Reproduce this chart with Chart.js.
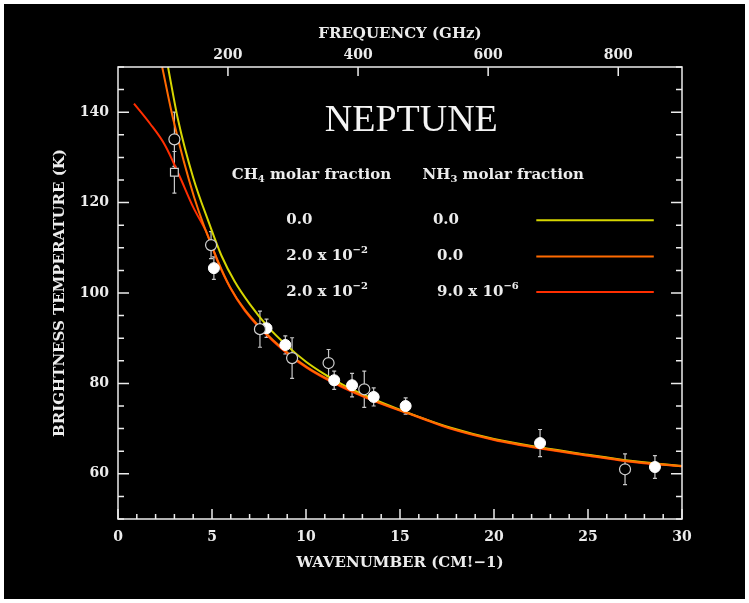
<!DOCTYPE html>
<html>
<head>
<meta charset="utf-8">
<script src="https://cdn.jsdelivr.net/npm/chart.js@4.4.1/dist/chart.umd.min.js"></script>
<style>
  html, body { margin: 0; padding: 0; background: #fff; }
</style>
</head>
<body>
<canvas id="neptune" width="749" height="603"></canvas>
<script>
// measurements: wavenumber (cm-1), brightness temperature (K), 1-sigma error (K)
const OPEN_X = [3.0, 4.95, 7.55, 9.26, 11.2, 13.1, 26.97];
const OPEN_T = [134.0, 110.6, 92.0, 85.6, 84.5, 78.7, 61.0];
const OPEN_ERR = [6.0, 3.0, 4.0, 4.5, 3.0, 4.0, 3.4];

const FILLED_X = [5.1, 7.9, 8.9, 11.5, 12.45, 13.6, 15.3, 22.45, 28.56];
const FILLED_T = [105.5, 92.2, 88.5, 80.7, 79.6, 77.0, 75.0, 66.8, 61.5];
const FILLED_ERR = [2.5, 2.0, 2.0, 2.0, 2.6, 2.0, 1.8, 3.0, 2.5];

const SQUARE_X = [3.0];
const SQUARE_T = [126.7];
const SQUARE_ERR = [4.6];

// model spectra
const YELLOW_X = [2.66, 3.2, 4.0, 4.84, 5.5, 6.2, 7.0, 8.0, 9.0, 10.0, 11.0, 12.0, 13.6, 16.0, 17.7, 20.0, 22.5, 25.0, 27.0, 30.0];
const YELLOW_T = [150, 138.2, 125.5, 115.5, 108.3, 102.6, 97.6, 92.4, 88.3, 84.8, 82.0, 79.6, 76.5, 72.6, 70.2, 67.7, 65.8, 64.2, 63.0, 61.7];

const ORANGE_X = [2.35, 2.95, 4.05, 5.3, 5.96, 6.76, 8.24, 10.05, 11.8, 13.56, 16.06, 17.66, 20.0, 22.45, 25.0, 27.0, 30.0];
const ORANGE_T = [150, 138.2, 121.2, 107.2, 101.3, 96.2, 89.6, 83.6, 79.6, 76.3, 72.5, 70.1, 67.6, 65.7, 64.1, 62.9, 61.7];

const RED_X = [0.85, 1.7, 2.5, 3.3, 4.0, 4.73, 5.3, 5.96, 6.76, 8.24, 10.05, 11.8, 13.56, 16.06, 17.66, 20.0, 22.45, 25.0, 27.0, 30.0];
const RED_T = [141.9, 137.5, 132.7, 125.6, 119.0, 113.2, 107.0, 101.2, 96.0, 89.4, 83.4, 79.4, 76.2, 72.4, 70.0, 67.5, 65.6, 64.0, 62.8, 61.6];

// axes
const X_TICKS = [0, 5, 10, 15, 20, 25, 30];
const Y_TICKS = [60, 80, 100, 120, 140];
const GHZ_TICKS = [200, 400, 600, 800];

const LEGEND_ROWS = [
  { ch4: [{ t: '0.0' }], nh3: [{ t: '0.0' }], color: '#d6d600' },
  { ch4: [{ t: '2.0 x 10' }, { t: '\u22122', s: 'sup' }], nh3: [{ t: '0.0' }], color: '#ff6a00' },
  { ch4: [{ t: '2.0 x 10' }, { t: '\u22122', s: 'sup' }], nh3: [{ t: '9.0 x 10' }, { t: '\u22126', s: 'sup' }], color: '#ff2e00' },
];

const toPoints = (xs, ys) => xs.map((x, i) => ({ x: x, y: ys[i] }));

const FONT = '"DejaVu Serif", serif';
const INK = '#ececec';

function drawRich(ctx, parts, x, y) {
  for (const p of parts) {
    const size = p.s ? 10 : 15;
    ctx.font = 'bold ' + size + 'px ' + FONT;
    const dy = p.s === 'sub' ? 4 : p.s === 'sup' ? -6 : 0;
    ctx.fillText(p.t, x, y + dy);
    x += ctx.measureText(p.t).width;
  }
}

function errorBars(ctx, xs, ys, X, T, E) {
  X.forEach((v, i) => {
    const px = xs.getPixelForValue(v);
    const top = ys.getPixelForValue(T[i] + E[i]);
    const bot = ys.getPixelForValue(T[i] - E[i]);
    ctx.beginPath();
    ctx.moveTo(px, top);
    ctx.lineTo(px, bot);
    ctx.moveTo(px - 2, top);
    ctx.lineTo(px + 2, top);
    ctx.moveTo(px - 2, bot);
    ctx.lineTo(px + 2, bot);
    ctx.stroke();
  });
}

const decor = {
  id: 'decor',
  beforeDraw(chart) {
    const ctx = chart.ctx;
    ctx.save();
    ctx.fillStyle = '#fff';
    ctx.fillRect(0, 0, chart.width, chart.height);
    ctx.fillStyle = '#000';
    ctx.fillRect(4, 4, chart.width - 8, chart.height - 8);
    ctx.restore();
  },
  beforeDatasetsDraw(chart) {
    const ctx = chart.ctx;
    const xs = chart.scales.x, ys = chart.scales.y;
    ctx.save();
    ctx.strokeStyle = '#c8c8c8';
    ctx.lineWidth = 1.2;
    errorBars(ctx, xs, ys, OPEN_X, OPEN_T, OPEN_ERR);
    errorBars(ctx, xs, ys, FILLED_X, FILLED_T, FILLED_ERR);
    errorBars(ctx, xs, ys, SQUARE_X, SQUARE_T, SQUARE_ERR);
    ctx.restore();
  },
  afterDraw(chart) {
    const ctx = chart.ctx;
    const a = chart.chartArea;
    const xs = chart.scales.x, ys = chart.scales.y, gs = chart.scales.x2;
    ctx.save();
    ctx.strokeStyle = INK;
    ctx.lineWidth = 1.5;
    ctx.strokeRect(a.left, a.top, a.right - a.left, a.bottom - a.top);

    ctx.beginPath();
    for (let v = ys.min; v <= ys.max; v += 5) {
      const py = ys.getPixelForValue(v);
      const len = v % 20 === 0 ? 11 : 6;
      ctx.moveTo(a.left, py); ctx.lineTo(a.left + len, py);
      ctx.moveTo(a.right, py); ctx.lineTo(a.right - len, py);
    }
    for (let v = xs.min; v <= xs.max; v += 1) {
      const px = xs.getPixelForValue(v);
      const len = v % 5 === 0 ? 10 : 5;
      ctx.moveTo(px, a.bottom); ctx.lineTo(px, a.bottom - len);
    }
    GHZ_TICKS.forEach(g => {
      const px = gs.getPixelForValue(g);
      ctx.moveTo(px, a.top); ctx.lineTo(px, a.top + 9);
    });
    ctx.stroke();

    // title
    ctx.fillStyle = '#f4f4f4';
    ctx.textAlign = 'center';
    ctx.textBaseline = 'middle';
    ctx.font = '38px "Liberation Serif", serif';
    ctx.fillText('NEPTUNE', xs.getPixelForValue(15.6), ys.getPixelForValue(138));

    // key
    ctx.textAlign = 'left';
    ctx.fillStyle = INK;
    const headY = ys.getPixelForValue(126);
    drawRich(ctx, [{ t: 'CH' }, { t: '4', s: 'sub' }, { t: ' molar fraction' }], xs.getPixelForValue(6.05), headY);
    drawRich(ctx, [{ t: 'NH' }, { t: '3', s: 'sub' }, { t: ' molar fraction' }], xs.getPixelForValue(16.2), headY);
    const rowT = [116.1, 108.1, 100.2];
    LEGEND_ROWS.forEach((r, i) => {
      const py = ys.getPixelForValue(rowT[i]);
      ctx.fillStyle = INK;
      drawRich(ctx, r.ch4, xs.getPixelForValue(8.95), py);
      drawRich(ctx, r.nh3, xs.getPixelForValue(i === 0 ? 16.75 : 16.97), py);
      ctx.strokeStyle = r.color;
      ctx.lineWidth = 2;
      ctx.beginPath();
      ctx.moveTo(xs.getPixelForValue(22.25), py);
      ctx.lineTo(xs.getPixelForValue(28.5), py);
      ctx.stroke();
    });
    ctx.restore();
  }
};

const tickFont = { family: FONT, size: 14, weight: 'bold' };
const titleFont = { family: FONT, size: 15, weight: 'bold' };

new Chart(document.getElementById('neptune'), {
  data: {
    datasets: [
      {
        type: 'scatter', label: 'open', order: 0,
        data: toPoints(OPEN_X, OPEN_T),
        pointStyle: 'circle', pointRadius: 5.5,
        pointBackgroundColor: '#000', pointBorderColor: '#d0d0d0', pointBorderWidth: 1.2,
      },
      {
        type: 'scatter', label: 'filled', order: 0,
        data: toPoints(FILLED_X, FILLED_T),
        pointStyle: 'circle', pointRadius: 5.5,
        pointBackgroundColor: '#ffffff', pointBorderColor: '#ffffff', pointBorderWidth: 1,
      },
      {
        type: 'scatter', label: 'square', order: 0,
        data: toPoints(SQUARE_X, SQUARE_T),
        pointStyle: 'rect', pointRadius: 5.5,
        pointBackgroundColor: '#000', pointBorderColor: '#d0d0d0', pointBorderWidth: 1.2,
      },
      {
        type: 'line', label: 'CH4 2e-2, NH3 0', order: 1,
        data: toPoints(ORANGE_X, ORANGE_T),
        borderColor: '#ff6a00', borderWidth: 2, pointRadius: 0,
        cubicInterpolationMode: 'monotone',
      },
      {
        type: 'line', label: 'CH4 0, NH3 0', order: 2,
        data: toPoints(YELLOW_X, YELLOW_T),
        borderColor: '#d6d600', borderWidth: 2, pointRadius: 0,
        cubicInterpolationMode: 'monotone',
      },
      {
        type: 'line', label: 'CH4 2e-2, NH3 9e-6', order: 3,
        data: toPoints(RED_X, RED_T),
        borderColor: '#ff2e00', borderWidth: 2, pointRadius: 0,
        cubicInterpolationMode: 'monotone',
      },
    ],
  },
  options: {
    responsive: false,
    animation: false,
    layout: { padding: 0 },
    plugins: {
      legend: { display: false },
      tooltip: { enabled: false },
    },
    scales: {
      x: {
        type: 'linear', position: 'bottom', min: 0, max: 30,
        afterBuildTicks: (s) => { s.ticks = X_TICKS.map(v => ({ value: v })); },
        afterFit: (s) => { s.height = 84; },
        grid: { display: false, drawTicks: false },
        border: { display: false },
        ticks: { color: INK, font: tickFont, padding: 10, maxRotation: 0 },
        title: { display: true, text: 'WAVENUMBER (CM!\u22121)', color: INK, font: titleFont, padding: { bottom: 31 } },
      },
      x2: {
        type: 'linear', position: 'top', min: 31, max: 898,
        afterBuildTicks: (s) => { s.ticks = GHZ_TICKS.map(v => ({ value: v })); },
        afterFit: (s) => { s.height = 67; },
        grid: { display: false, drawTicks: false },
        border: { display: false },
        ticks: { color: INK, font: tickFont, padding: 3, maxRotation: 0 },
        title: { display: true, text: 'FREQUENCY (GHz)', color: INK, font: titleFont, padding: { top: 25 } },
      },
      y: {
        type: 'linear', position: 'left', min: 50, max: 150,
        afterBuildTicks: (s) => { s.ticks = Y_TICKS.map(v => ({ value: v })); },
        afterFit: (s) => { s.width = 118; },
        grid: { display: false, drawTicks: false },
        border: { display: false },
        ticks: { color: INK, font: tickFont, padding: 9 },
        title: { display: true, text: 'BRIGHTNESS TEMPERATURE (K)', color: INK, font: titleFont, padding: { top: 51 } },
      },
      y2: {
        type: 'linear', position: 'right', min: 50, max: 150,
        afterFit: (s) => { s.width = 67; },
        grid: { display: false, drawTicks: false },
        border: { display: false },
        ticks: { display: false },
      },
    },
  },
  plugins: [decor],
});
</script>
</body>
</html>
